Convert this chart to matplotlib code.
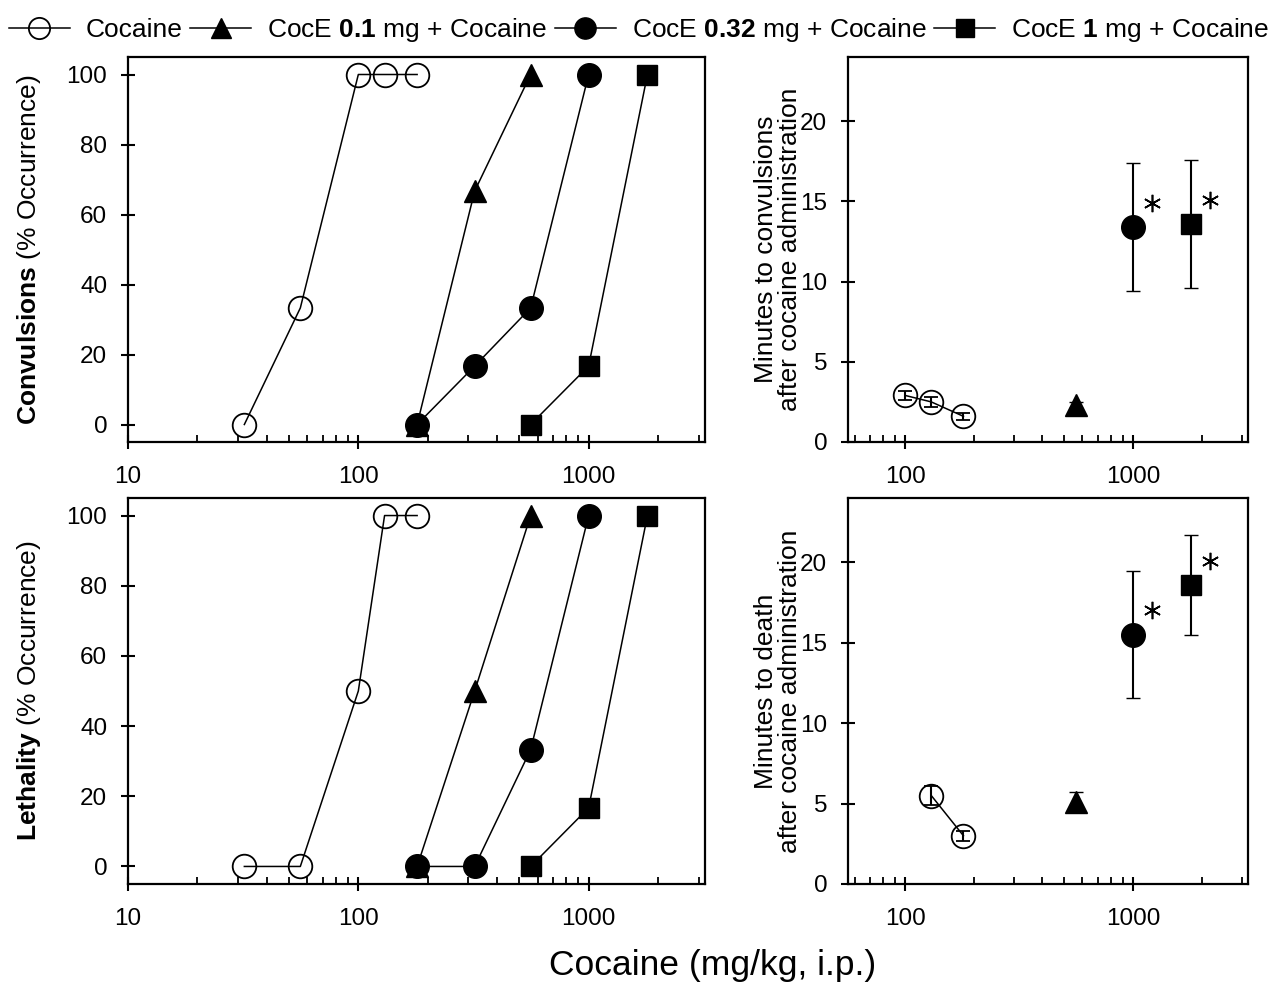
import matplotlib
matplotlib.use("Agg")
import matplotlib.pyplot as plt
from matplotlib.ticker import FixedLocator, NullFormatter, FixedFormatter
from matplotlib.lines import Line2D
from matplotlib.transforms import offset_copy

plt.rcParams['font.family'] = ['Liberation Sans', 'DejaVu Sans']
plt.rcParams['mathtext.fontset'] = 'custom'
plt.rcParams['mathtext.rm'] = 'Liberation Sans'
plt.rcParams['mathtext.bf'] = 'Liberation Sans:bold'

# Dose-response data (cocaine dose in mg/kg, % occurrence)
coc_dose = [32, 56, 100, 130, 180]
coc_conv = [0, 33.3, 100, 100, 100]
coc_leth = [0, 0, 50, 100, 100]

c01_dose = [180, 320, 560]
c01_conv = [0, 66.7, 100]
c01_leth = [0, 50, 100]

c032_dose = [180, 320, 560, 1000]
c032_conv = [0, 16.7, 33.3, 100]
c032_leth = [0, 0, 33.3, 100]

c1_dose = [560, 1000, 1800]
c1_conv = [0, 16.7, 100]
c1_leth = [0, 16.7, 100]

# Latency to convulsions (minutes, mean and SEM)
conv_coc_dose = [100, 130, 180]
conv_coc_min = [2.9, 2.5, 1.6]
conv_coc_err = [0.3, 0.3, 0.2]
conv_c01_dose = [560]
conv_c01_min = [2.3]
conv_c01_err = [0.2]
conv_c032_dose = [1000]
conv_c032_min = [13.4]
conv_c032_err = [4.0]
conv_c1_dose = [1800]
conv_c1_min = [13.6]
conv_c1_err = [4.0]

# Latency to death (minutes, mean and SEM)
death_coc_dose = [130, 180]
death_coc_min = [5.5, 3.0]
death_coc_err = [0.6, 0.3]
death_c01_dose = [560]
death_c01_min = [5.1]
death_c01_err = [0.6]
death_c032_dose = [1000]
death_c032_min = [15.5]
death_c032_err = [3.95]
death_c1_dose = [1800]
death_c1_min = [18.6]
death_c1_err = [3.1]

legend_labels = ["Cocaine",
                 r"CocE $\bf{0.1}$ mg + Cocaine",
                 r"CocE $\bf{0.32}$ mg + Cocaine",
                 r"CocE $\bf{1}$ mg + Cocaine"]

W, H = 1278, 990
fig = plt.figure(figsize=(W / 100, H / 100), dpi=100)


def rect(x0, y0, x1, y1):
    return [x0 / W, 1 - y1 / H, (x1 - x0) / W, (y1 - y0) / H]


ax_cl = fig.add_axes(rect(128, 57, 705, 442))
ax_cr = fig.add_axes(rect(848, 57, 1248, 442))
ax_ll = fig.add_axes(rect(128, 498, 705, 884))
ax_lr = fig.add_axes(rect(848, 498, 1248, 884))

styles = [
    dict(marker='o', mfc='none', mec='black', ms=17, mew=1.3),
    dict(marker='^', mfc='black', mec='black', ms=16, mew=1.0),
    dict(marker='o', mfc='black', mec='black', ms=17, mew=1.0),
    dict(marker='s', mfc='black', mec='black', ms=14.5, mew=1.0),
]
LW = 1.1
TICK_FS = 17.5


def style_axes(ax, xlim, ylim, yticks, major_x, minor_x):
    ax.set_xscale('log')
    ax.set_xlim(*xlim)
    ax.set_ylim(*ylim)
    ax.xaxis.set_major_locator(FixedLocator(major_x))
    ax.xaxis.set_major_formatter(FixedFormatter([str(v) for v in major_x]))
    ax.xaxis.set_minor_locator(FixedLocator(minor_x))
    ax.xaxis.set_minor_formatter(NullFormatter())
    ax.set_yticks(yticks)
    ax.tick_params(axis='both', which='major', direction='inout', length=10,
                   width=1.5, labelsize=TICK_FS)
    ax.tick_params(axis='x', which='major', pad=12)
    ax.tick_params(axis='y', which='major', pad=10)
    ax.tick_params(axis='x', which='minor', direction='in', length=5, width=1.3)
    for s in ax.spines.values():
        s.set_linewidth(1.6)


minor_left = [v * 10 ** k for k in (1, 2, 3) for v in range(2, 10) if v * 10 ** k < 3200]
minor_right = [v * 10 ** k for k in (1, 2, 3) for v in range(2, 10) if 56 < v * 10 ** k < 3200]

# Left panels: percentage occurrence
for ax, data in [
    (ax_cl, [(coc_dose, coc_conv), (c01_dose, c01_conv), (c032_dose, c032_conv), (c1_dose, c1_conv)]),
    (ax_ll, [(coc_dose, coc_leth), (c01_dose, c01_leth), (c032_dose, c032_leth), (c1_dose, c1_leth)]),
]:
    for (x, y), st in zip(data, styles):
        ax.plot(x, y, color='black', lw=LW, **st)
    style_axes(ax, (10, 3200), (-5, 105), [0, 20, 40, 60, 80, 100],
               [10, 100, 1000], minor_left)

ax_cl.set_ylabel(r"$\bf{Convulsions}$ (% Occurrence)", fontsize=19, va='center')
ax_ll.set_ylabel(r"$\bf{Lethality}$ (% Occurrence)", fontsize=19, va='center')
for ax in (ax_cl, ax_ll):
    ax.yaxis.set_label_coords(-0.172, 0.5)

# Right panels: latency in minutes
for ax, data in [
    (ax_cr, [(conv_coc_dose, conv_coc_min, conv_coc_err),
             (conv_c01_dose, conv_c01_min, conv_c01_err),
             (conv_c032_dose, conv_c032_min, conv_c032_err),
             (conv_c1_dose, conv_c1_min, conv_c1_err)]),
    (ax_lr, [(death_coc_dose, death_coc_min, death_coc_err),
             (death_c01_dose, death_c01_min, death_c01_err),
             (death_c032_dose, death_c032_min, death_c032_err),
             (death_c1_dose, death_c1_min, death_c1_err)]),
]:
    for (x, y, e), st in zip(data, styles):
        ax.errorbar(x, y, yerr=e, color='black', lw=LW, elinewidth=1.5,
                    capsize=5, capthick=1.5, **st)
    # significance asterisks beside the two highest CocE doses
    star_tr = offset_copy(ax.transData, fig=fig, x=13.5, y=17.5, units='points')
    for x, y in [data[2][:2], data[3][:2]]:
        ax.plot(x, y, linestyle='none', marker=(6, 2, 0), ms=12.5, mew=1.2,
                color='black', transform=star_tr)
    style_axes(ax, (56, 3200), (0, 24), [0, 5, 10, 15, 20],
               [100, 1000], minor_right)

ax_cr.set_ylabel("Minutes to convulsions\nafter cocaine administration",
                 fontsize=19, linespacing=0.95, va='center')
ax_lr.set_ylabel("Minutes to death\nafter cocaine administration",
                 fontsize=19, linespacing=0.95, va='center')
for ax in (ax_cr, ax_lr):
    ax.yaxis.set_label_coords(-0.175, 0.5)

fig.text(713 / W, 1 - 966 / H, "Cocaine (mg/kg, i.p.)", fontsize=25.5,
         ha='center', va='center')

handles = [Line2D([], [], color='black', lw=LW,
                  **{**st, 'ms': st['ms'] * 0.9}) for st in styles]
fig.legend(handles, legend_labels, loc='upper center', bbox_to_anchor=(0.5, 1.008),
           ncol=4, frameon=False, fontsize=19, handlelength=2.3,
           handletextpad=0.6, columnspacing=0.3)

fig.savefig("out.png", dpi=100)
